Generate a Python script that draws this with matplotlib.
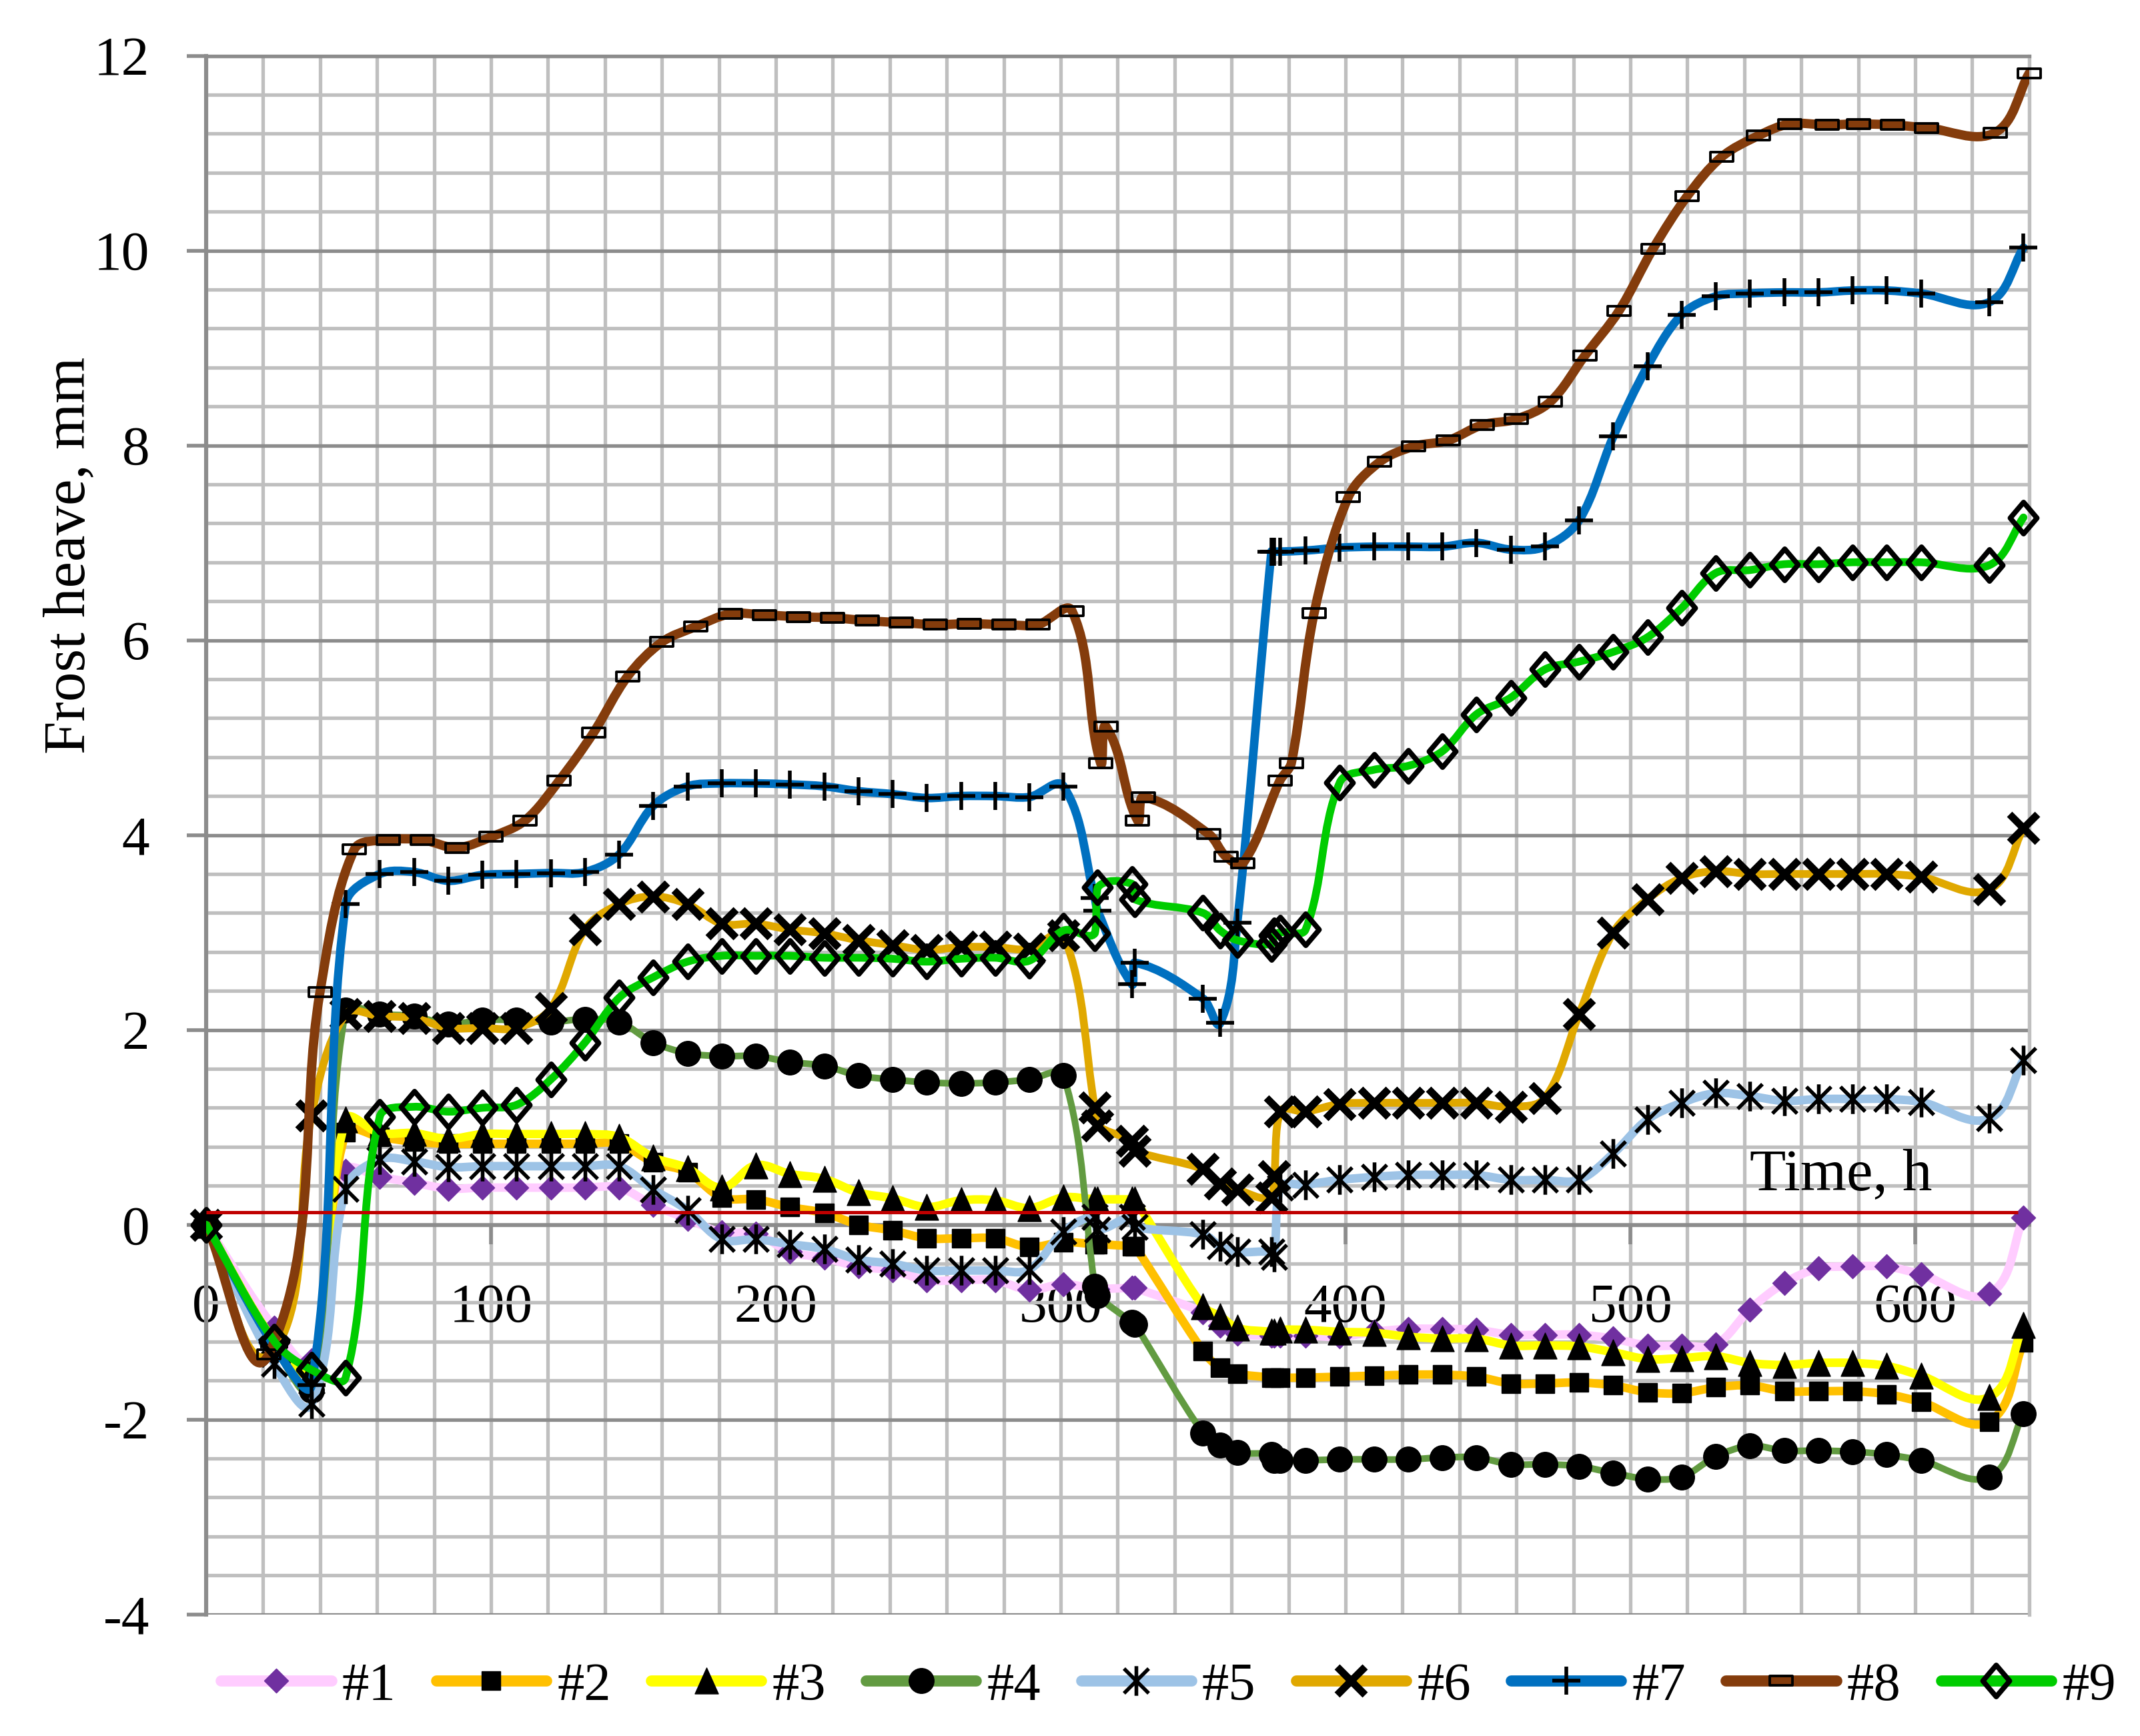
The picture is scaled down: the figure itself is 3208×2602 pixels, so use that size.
import numpy as np
import matplotlib
matplotlib.use("Agg")
import matplotlib.pyplot as plt
from matplotlib.path import Path
from matplotlib.patches import PathPatch
from matplotlib.lines import Line2D

plt.rcParams['font.family'] = ['Liberation Serif', 'DejaVu Serif']
plt.rcParams['axes.unicode_minus'] = False

# ---------------- data ----------------
series_labels = ["#1", "#2", "#3", "#4", "#5", "#6", "#7", "#8", "#9"]

time_h = [0, 24, 37, 49, 61, 73, 85, 97, 109,
          121, 133, 145, 157, 169, 181, 193, 205, 217, 229, 241, 253, 265, 277, 289, 301,
          312, 313, 325, 326,
          350, 356, 362,
          374, 375, 377, 386,
          398, 410, 422, 434, 446, 458, 470, 482, 494, 506, 518, 530, 542, 554, 566, 578, 590, 602,
          626, 638]

time_h_8 = [0, 22, 40, 52, 64, 76, 88, 100, 112,
            124, 136, 148, 160, 172, 184, 196, 208, 220, 232, 244, 256, 268, 280, 292, 304,
            314, 316, 327, 329,
            352, 358, 364,
            377, 381, 389,
            401, 412, 424, 436, 448, 460, 472, 484, 496, 508, 520, 532, 545, 556, 569, 580, 592, 604,
            628, 640]

heave_1 = [0, -1.06, -1.39, 0.55, 0.49, 0.43, 0.37, 0.38, 0.38,
           0.38, 0.38, 0.38, 0.20, 0.06, -0.08, -0.09, -0.28, -0.34, -0.43, -0.47, -0.57, -0.57, -0.57, -0.67, -0.61,
           -0.66, -0.66, -0.65, -0.65,
           -0.90, -1.04, -1.12,
           -1.14, -1.14, -1.14, -1.14,
           -1.15, -1.10, -1.07, -1.07, -1.08, -1.13, -1.13, -1.13, -1.17, -1.24, -1.24, -1.23, -0.87, -0.60, -0.45, -0.43, -0.43, -0.51,
           -0.71, 0.07]

heave_2 = [0, -1.25, -1.50, 0.95, 0.90, 0.85, 0.83, 0.83, 0.83,
           0.83, 0.83, 0.83, 0.64, 0.54, 0.28, 0.26, 0.18, 0.12, 0.00, -0.06, -0.14, -0.14, -0.14, -0.23, -0.18,
           -0.20, -0.20, -0.22, -0.22,
           -1.30, -1.47, -1.53,
           -1.57, -1.57, -1.57, -1.57,
           -1.56, -1.55, -1.54, -1.54, -1.56, -1.63, -1.63, -1.62, -1.65, -1.72, -1.73, -1.67, -1.65, -1.71, -1.71, -1.71, -1.74, -1.82,
           -2.02, -1.21]

heave_3 = [0, -1.20, -1.50, 1.08, 0.94, 0.94, 0.88, 0.93, 0.93,
           0.93, 0.93, 0.90, 0.69, 0.58, 0.38, 0.61, 0.52, 0.47, 0.33, 0.27, 0.18, 0.25, 0.25, 0.17, 0.28,
           0.26, 0.26, 0.26, 0.26,
           -0.84, -0.94, -1.06,
           -1.10, -1.10, -1.08, -1.08,
           -1.10, -1.11, -1.15, -1.17, -1.17, -1.24, -1.24, -1.25, -1.31, -1.38, -1.37, -1.35, -1.42, -1.44, -1.42, -1.42, -1.45, -1.55,
           -1.77, -1.03]

heave_4 = [0, -1.25, -1.70, 2.20, 2.16, 2.14, 2.06, 2.10, 2.10,
           2.08, 2.11, 2.08, 1.87, 1.76, 1.73, 1.73, 1.67, 1.63, 1.53, 1.49, 1.46, 1.45, 1.46, 1.49, 1.53,
           -0.63, -0.73, -1.00, -1.02,
           -2.14, -2.26, -2.34,
           -2.36, -2.42, -2.42, -2.42,
           -2.41, -2.41, -2.41, -2.39, -2.39, -2.46, -2.46, -2.48, -2.55, -2.61, -2.59, -2.38, -2.27, -2.32, -2.32, -2.33, -2.36, -2.42,
           -2.59, -1.94]

heave_5 = [0, -1.43, -1.84, 0.37, 0.67, 0.65, 0.59, 0.60, 0.60,
           0.60, 0.60, 0.60, 0.36, 0.15, -0.15, -0.15, -0.20, -0.25, -0.36, -0.40, -0.47, -0.47, -0.47, -0.46, -0.07,
           0.08, -0.05, 0.08, -0.02,
           -0.10, -0.22, -0.28,
           -0.28, -0.33, 0.38, 0.41,
           0.46, 0.49, 0.51, 0.51, 0.51, 0.46, 0.46, 0.46, 0.73, 1.08, 1.25, 1.35, 1.32, 1.27, 1.29, 1.29, 1.29, 1.26,
           1.09, 1.69]

heave_6 = [0, -1.30, 1.12, 2.16, 2.14, 2.12, 2.02, 2.02, 2.02,
           2.22, 3.03, 3.29, 3.37, 3.29, 3.09, 3.09, 3.03, 2.99, 2.92, 2.87, 2.82, 2.85, 2.85, 2.83, 2.97,
           1.20, 1.02, 0.86, 0.76,
           0.57, 0.42, 0.36,
           0.28, 0.50, 1.16, 1.16,
           1.24, 1.25, 1.25, 1.25, 1.25, 1.21, 1.30, 2.16, 3.00, 3.34, 3.56, 3.63, 3.60, 3.60, 3.60, 3.60, 3.60, 3.57,
           3.44, 4.07]

heave_7 = [0, -1.25, -1.65, 3.29, 3.60, 3.62, 3.53, 3.59, 3.60,
           3.61, 3.62, 3.80, 4.30, 4.50, 4.53, 4.53, 4.52, 4.50, 4.45, 4.42, 4.38, 4.40, 4.40, 4.39, 4.50,
           3.35, 3.22, 2.47, 2.69,
           2.32, 2.07, 3.10,
           6.91, 6.91, 6.91, 6.92,
           6.95, 6.96, 6.96, 6.96, 7.00, 6.93, 6.96, 7.23, 8.09, 8.81, 9.34, 9.53, 9.56, 9.57, 9.57, 9.59, 9.59, 9.56,
           9.47, 10.03]

heave_8 = [0, -1.33, 2.39, 3.85, 3.95, 3.95, 3.87, 3.98, 4.15,
           4.56, 5.05, 5.63, 5.98, 6.14, 6.27, 6.26, 6.24, 6.23, 6.20, 6.18, 6.16, 6.17, 6.16, 6.16, 6.30,
           4.74, 5.11, 4.15, 4.39,
           4.01, 3.78, 3.71,
           4.56, 4.74, 6.28,
           7.47, 7.83, 7.99, 8.05, 8.21, 8.27, 8.45, 8.92, 9.38, 10.02, 10.56, 10.96, 11.18, 11.30, 11.29, 11.30, 11.29, 11.26,
           11.21, 11.82]

heave_9 = [0, -1.20, -1.49, -1.57, 1.11, 1.21, 1.16, 1.20, 1.23,
           1.49, 1.87, 2.33, 2.54, 2.70, 2.76, 2.76, 2.76, 2.74, 2.74, 2.73, 2.70, 2.73, 2.74, 2.71, 3.02,
           2.99, 3.46, 3.50, 3.34,
           3.20, 3.02, 2.92,
           2.88, 2.97, 3.00, 3.03,
           4.54, 4.67, 4.71, 4.86, 5.24, 5.41, 5.70, 5.78, 5.88, 6.03, 6.33, 6.69, 6.72, 6.78, 6.78, 6.80, 6.80, 6.80,
           6.77, 7.26]

x_ticks = [0, 100, 200, 300, 400, 500, 600]
y_ticks = [-4, -2, 0, 2, 4, 6, 8, 10, 12]
red_line_level = 0.127
red_line_end = 636
x_axis_title = "Time, h"
y_axis_title = "Frost heave, mm"

# ---------------- figure ----------------
W, H, DPI = 3208, 2602, 200
fig = plt.figure(figsize=(W / DPI, H / DPI), dpi=DPI)
AX_RECT = [0.0963, 0.0701, 0.8519, 0.8978]
ax = fig.add_axes(AX_RECT)
XMAX, YMIN, YMAX = 640, -4, 12
ax.set_xlim(0, XMAX)
ax.set_ylim(YMIN, YMAX)

sx = AX_RECT[2] * W / XMAX
sy = AX_RECT[3] * H / (YMAX - YMIN)


def smooth_path(x, y, k=1 / 3):
    """Excel-like smoothed line: cubic Bezier segments through the data points."""
    P = np.column_stack([np.asarray(x, float) * sx, np.asarray(y, float) * sy])
    n = len(P)
    T = np.empty_like(P)
    T[1:-1] = P[2:] - P[:-2]
    T[0] = P[1] - P[0]
    T[-1] = P[-1] - P[-2]
    nrm = np.hypot(T[:, 0], T[:, 1])
    nrm[nrm == 0] = 1.0
    U = T / nrm[:, None]
    verts = [P[0]]
    codes = [Path.MOVETO]
    for i in range(n - 1):
        a, b = P[i], P[i + 1]
        L = np.hypot(*(b - a))
        c1 = a + U[i] * L * k
        c2 = b - U[i + 1] * L * k
        lo, hi = min(a[0], b[0]), max(a[0], b[0])
        c1[0] = np.clip(c1[0], lo, hi)
        c2[0] = np.clip(c2[0], lo, hi)
        verts += [c1, c2, b]
        codes += [Path.CURVE4] * 3
    V = np.array(verts)
    V[:, 0] /= sx
    V[:, 1] /= sy
    return Path(V, codes)


Mv, Lv, Cv = Path.MOVETO, Path.LINETO, Path.CLOSEPOLY
star = Path([(-1, -1), (1, 1), (-1, 1), (1, -1), (0, -1.2), (0, 1.2)], [Mv, Lv, Mv, Lv, Mv, Lv])
rect = Path([(-1, -0.42), (1, -0.42), (1, 0.42), (-1, 0.42), (-1, -0.42)], [Mv, Lv, Lv, Lv, Cv])
diam = Path([(0, 1), (1, 0), (0, -1), (-1, 0), (0, 1)], [Mv, Lv, Lv, Lv, Cv])
diam_tall = Path([(0, 1), (0.85, 0), (0, -1), (-0.85, 0), (0, 1)], [Mv, Lv, Lv, Lv, Cv])
tri = Path([(0, 1), (0.9, -1), (-0.9, -1), (0, 1)], [Mv, Lv, Lv, Cv])

styles = [
    dict(color='#FFCCFF', lw=4.6, marker=diam, ms=13, mfc='#7030A0', mec='#7030A0', mew=0.5),
    dict(color='#FFC000', lw=4.6, marker='s', ms=10, mfc='black', mec='black', mew=0.5),
    dict(color='#FFFF00', lw=4.6, marker=tri, ms=14, mfc='black', mec='black', mew=0.5),
    dict(color='#629B41', lw=3.6, marker='o', ms=13.5, mfc='black', mec='black', mew=0.5),
    dict(color='#9DC3E6', lw=4.6, marker=star, ms=16, mfc='none', mec='black', mew=2.0),
    dict(color='#E0A800', lw=4.2, marker='x', ms=15, mfc='none', mec='black', mew=4.0),
    dict(color='#0070C0', lw=4.6, marker='+', ms=15, mfc='none', mec='black', mew=2.0),
    dict(color='#843C0C', lw=5.0, marker=rect, ms=12, mfc='none', mec='black', mew=1.4),
    dict(color='#00CC00', lw=4.2, marker=diam_tall, ms=17, mfc='none', mec='black', mew=2.8),
]

times = [time_h] * 7 + [time_h_8, time_h]
values = [heave_1, heave_2, heave_3, heave_4, heave_5, heave_6, heave_7, heave_8, heave_9]

handles = []
for i, (t, v, st) in enumerate(zip(times, values, styles)):
    ax.add_patch(PathPatch(smooth_path(t, v), fill=False, edgecolor=st['color'], lw=st['lw'],
                           capstyle='round', joinstyle='round', zorder=3 + i * 0.2))
    ax.plot(t, v, ls='none', marker=st['marker'], ms=st['ms'], mfc=st['mfc'], mec=st['mec'],
            mew=st['mew'], zorder=3.1 + i * 0.2, clip_on=False)
    handles.append(Line2D([], [], color=st['color'], lw=6.0, solid_capstyle='round',
                          marker=st['marker'], ms=st['ms'], mfc=st['mfc'], mec=st['mec'], mew=st['mew']))

# reference (red) line and its title
ax.hlines(red_line_level, 0, red_line_end, colors='#C00000', lw=1.8, zorder=20)
ax.text(574, 0.36, x_axis_title, ha='center', va='baseline', fontsize=32, zorder=25)

# ---------------- axes styling ----------------
ax.set_xticks(x_ticks)
ax.set_xticks(np.arange(0, XMAX + 1, 20), minor=True)
ax.set_yticks(y_ticks)
ax.set_yticks(np.arange(YMIN, YMAX + 0.001, 0.4), minor=True)
ax.set_xticklabels([str(v) for v in x_ticks])
ax.set_yticklabels([str(v) for v in y_ticks])
ax.tick_params(which='minor', length=0)
ax.tick_params(axis='x', which='major', direction='out', length=10.5, width=2, color='#8C8C8C',
               pad=21, labelsize=30)
ax.tick_params(axis='y', which='major', direction='out', length=10.5, width=2, color='#8C8C8C',
               pad=20, labelsize=30)

ax.grid(True, which='minor', color='#BFBFBF', lw=1.9)
ax.xaxis.grid(True, which='major', color='#BFBFBF', lw=1.9)
ax.yaxis.grid(True, which='major', color='#8C8C8C', lw=1.9)
ax.set_axisbelow(True)

ax.spines['bottom'].set_position(('data', 0))
ax.spines['bottom'].set_color('#8C8C8C')
ax.spines['bottom'].set_linewidth(2)
ax.spines['left'].set_color('#8C8C8C')
ax.spines['left'].set_linewidth(2.2)
ax.spines['top'].set_color('#8C8C8C')
ax.spines['top'].set_linewidth(1.9)
ax.spines['right'].set_color('#BFBFBF')
ax.spines['right'].set_linewidth(1.9)

fig.text(0.0326, 0.68, y_axis_title, rotation=90, ha='center', va='center', fontsize=32)

fig.legend(handles, series_labels, loc='center', bbox_to_anchor=(0.546, 0.0285), ncol=9,
           frameon=False, fontsize=29, handlelength=2.05, handletextpad=0.2, columnspacing=0.75)

fig.savefig('out.png', dpi=DPI)
